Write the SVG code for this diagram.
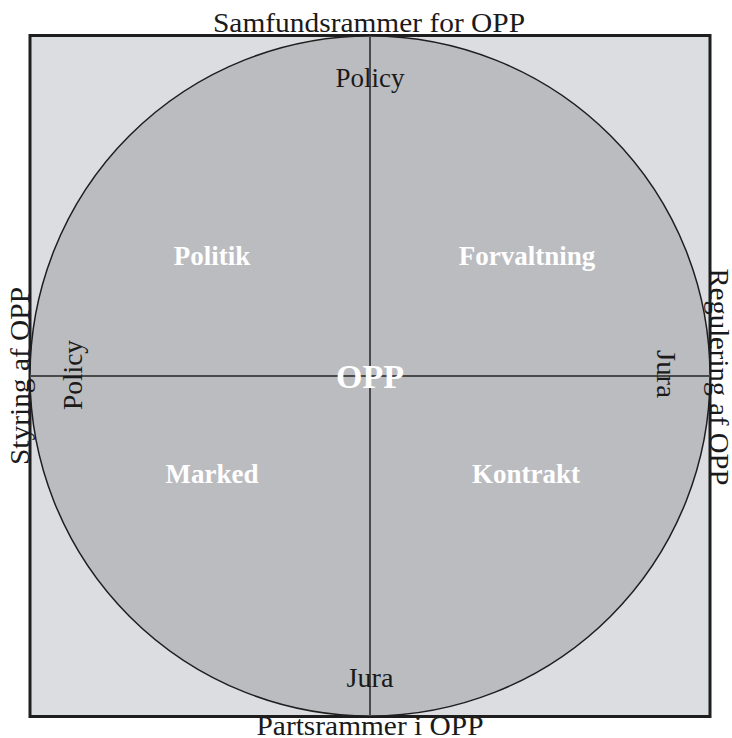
<svg xmlns="http://www.w3.org/2000/svg" width="732" height="738" viewBox="0 0 732 738">
  <style>
    .lbl { font-family: "Liberation Serif", "DejaVu Serif", serif; font-size: 28px; fill: #1a1a1a; text-anchor: middle; }
    .quad { font-family: "Liberation Serif", "DejaVu Serif", serif; font-size: 27px; font-weight: bold; fill: #ffffff; text-anchor: middle; }
    .axis { stroke: #4a4a4a; stroke-width: 2; fill: none; }
  </style>
  <rect width="732" height="738" fill="#ffffff"/>
  <g id="frame">
    <rect x="30" y="35.5" width="680" height="681" fill="#dcdde0" stroke="#1e1e1e" stroke-width="3"/>
  </g>
  <g id="circle">
    <circle cx="370" cy="376" r="340" fill="#bbbcc0" stroke="#1e1e1e" stroke-width="1.5"/>
  </g>
  <g id="connectors">
    <line class="axis" x1="370" y1="36" x2="370" y2="716"/>
    <line class="axis" x1="30" y1="376" x2="710" y2="376"/>
  </g>
  <g id="frame-labels">
    <text class="lbl" x="369" y="32" textLength="312" lengthAdjust="spacingAndGlyphs">Samfundsrammer for OPP</text>
    <text class="lbl" x="370" y="735" textLength="227" lengthAdjust="spacingAndGlyphs">Partsrammer i OPP</text>
    <text class="lbl" transform="translate(29,376) rotate(-90)" textLength="178" lengthAdjust="spacingAndGlyphs">Styring af OPP</text>
    <text class="lbl" transform="translate(710,377) rotate(90)" textLength="217" lengthAdjust="spacingAndGlyphs">Regulering af OPP</text>
  </g>
  <g id="axis-labels">
    <text class="lbl" x="370" y="87" textLength="69" lengthAdjust="spacingAndGlyphs">Policy</text>
    <text class="lbl" x="370" y="687" textLength="47" lengthAdjust="spacingAndGlyphs">Jura</text>
    <text class="lbl" transform="translate(82,375) rotate(-90)" textLength="70" lengthAdjust="spacingAndGlyphs">Policy</text>
    <text class="lbl" transform="translate(657,374) rotate(90)" textLength="48" lengthAdjust="spacingAndGlyphs">Jura</text>
  </g>
  <g id="node-politik">
    <text class="quad" x="212" y="265">Politik</text>
  </g>
  <g id="node-forvaltning">
    <text class="quad" x="527" y="265">Forvaltning</text>
  </g>
  <g id="node-marked">
    <text class="quad" x="212" y="483">Marked</text>
  </g>
  <g id="node-kontrakt">
    <text class="quad" x="526" y="483">Kontrakt</text>
  </g>
  <g id="node-opp">
    <text class="quad" x="370" y="388" style="font-size:34px">OPP</text>
  </g>
</svg>
